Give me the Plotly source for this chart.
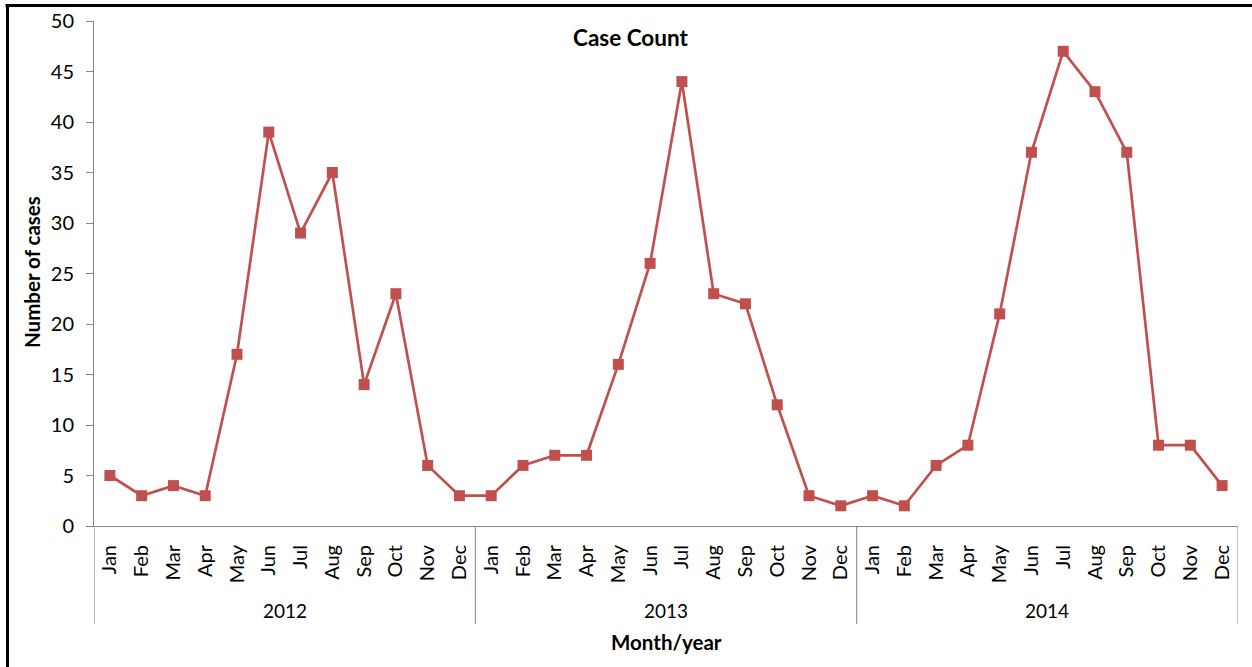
import plotly.graph_objects as go

years = ["2012", "2013", "2014"]
months = ["Jan", "Feb", "Mar", "Apr", "May", "Jun", "Jul", "Aug", "Sep", "Oct", "Nov", "Dec"]
cases_2012 = [5, 3, 4, 3, 17, 39, 29, 35, 14, 23, 6, 3]
cases_2013 = [3, 6, 7, 7, 16, 26, 44, 23, 22, 12, 3, 2]
cases_2014 = [3, 2, 6, 8, 21, 37, 47, 43, 37, 8, 8, 4]

values = cases_2012 + cases_2013 + cases_2014
labels = months * len(years)
xs = list(range(len(values)))

FONT = "Lato, 'Open Sans', sans-serif"
RED = "#C0504D"
GRAY = "#868686"

fig = go.Figure()
fig.add_trace(go.Scatter(
    x=xs, y=values, mode="lines+markers",
    line=dict(color=RED, width=2.7),
    marker=dict(symbol="square", size=11, color=RED),
    showlegend=False, hoverinfo="skip",
))

W, H = 1252, 667
# target page pixels: plot left 94, right 1238, top 21, bottom 526
L, T = 94, 21
R = W - 1238
B = H - 526
pw, ph = W - L - R, H - T - B

def py(pix):
    return (526 - pix) / ph

def px(pix):
    return (pix - 94) / pw

shapes = []
n = len(months)
for k in range(len(years) + 1):
    xb = k * n - 0.5
    shapes.append(dict(type="line", xref="x", yref="paper", x0=xb, x1=xb,
                       y0=0, y1=py(624), line=dict(color=GRAY, width=1)))
# outer frame (only top and left edges visible in the reference)
shapes.append(dict(type="line", xref="paper", yref="paper",
                   x0=px(5.5), x1=px(1252), y0=py(5.5), y1=py(5.5),
                   line=dict(color="black", width=3)))
shapes.append(dict(type="line", xref="paper", yref="paper",
                   x0=px(7.5), x1=px(7.5), y0=py(667), y1=py(4),
                   line=dict(color="black", width=3)))

annotations = []
for i, yr in enumerate(years):
    annotations.append(dict(x=i * n + (n - 1) / 2, y=py(610), xref="x", yref="paper",
                            text=yr, showarrow=False, font=dict(size=19, color="#000", family=FONT),
                            xanchor="center", yanchor="middle"))
annotations.append(dict(x=0.5, y=py(642), xref="paper", yref="paper",
                        text="<b>Month/year</b>", showarrow=False,
                        font=dict(size=20.5, color="#000", family=FONT),
                        xanchor="center", yanchor="middle"))
annotations.append(dict(x=px(32), y=py(272), xref="paper", yref="paper",
                        text="<b>Number of cases</b>", showarrow=False, textangle=-90,
                        font=dict(size=20.5, color="#000", family=FONT),
                        xanchor="center", yanchor="middle"))
annotations.append(dict(x=px(630), y=py(37), xref="paper", yref="paper",
                        text="<b>Case Count</b>", showarrow=False,
                        font=dict(size=22.5, color="#000", family=FONT),
                        xanchor="center", yanchor="middle"))

fig.update_layout(
    width=W, height=H,
    margin=dict(l=L, r=R, t=T, b=B, autoexpand=False),
    paper_bgcolor="white", plot_bgcolor="white",
    font=dict(family=FONT, color="#000"),
    shapes=shapes, annotations=annotations,
    xaxis=dict(range=[-0.5, len(values) - 0.5], tickmode="array", tickvals=xs, ticktext=labels,
               tickangle=-90, showline=True, linecolor=GRAY, linewidth=1, ticks="",
               showgrid=False, zeroline=False, tickfont=dict(size=20, family=FONT),
               ticklabelstandoff=10, automargin=False),
    yaxis=dict(range=[0, 50], dtick=5, showline=True, linecolor=GRAY, linewidth=1,
               ticks="outside", ticklen=7, tickcolor=GRAY, showgrid=False, zeroline=False,
               tickfont=dict(size=20, family=FONT), ticklabelstandoff=8, automargin=False),
)

fig.write_html(
    "out.html",
    config={"displayModeBar": False},
    post_script="document.body.style.margin='0';document.body.style.overflow='hidden';",
)
